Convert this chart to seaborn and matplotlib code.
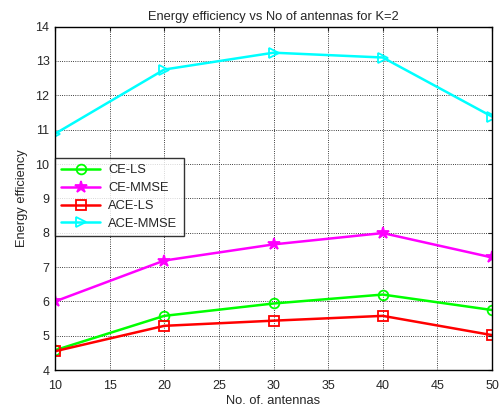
import matplotlib
matplotlib.use("Agg")
import matplotlib.pyplot as plt
import seaborn as sns
import pandas as pd

sns.set_style("white")
plt.rcParams["font.family"] = ["Liberation Sans", "DejaVu Sans"]

antennas = [10, 20, 30, 40, 50]
ce_ls = [4.58, 5.58, 5.94, 6.20, 5.75]
ce_mmse = [6.00, 7.19, 7.66, 7.99, 7.28]
ace_ls = [4.55, 5.29, 5.44, 5.58, 5.02]
ace_mmse = [10.88, 12.75, 13.24, 13.10, 11.38]

series = [
    ("CE-LS", ce_ls, "#00ff00", "o", "none"),
    ("CE-MMSE", ce_mmse, "#ff00ff", "*", "#ff00ff"),
    ("ACE-LS", ace_ls, "#ff0000", "s", "none"),
    ("ACE-MMSE", ace_mmse, "#00ffff", ">", "none"),
]

fig = plt.figure(figsize=(5, 4.09), dpi=100)
ax = fig.add_axes([0.11, 0.095, 0.874, 0.84])

for name, vals, col, mk, fc in series:
    df = pd.DataFrame({"N": antennas, "ee": vals})
    sns.lineplot(data=df, x="N", y="ee", ax=ax, color=col, marker=mk,
                 markersize=9 if mk == "*" else 7, markerfacecolor=fc,
                 markeredgecolor=col, markeredgewidth=1.3, linewidth=1.8,
                 label=name)

ax.set_xlim(10, 50)
ax.set_ylim(4, 14)
ax.set_xticks(range(10, 51, 5))
ax.set_yticks(range(4, 15))
ax.grid(True, color="black", linestyle=":", linewidth=0.6)
ax.tick_params(direction="in", top=True, right=True, labelsize=9, length=3)
ax.tick_params(axis="x", pad=7)
ax.tick_params(axis="y", pad=4)
for s in ax.spines.values():
    s.set_color("black")
    s.set_linewidth(1.0)

ax.set_title("Energy efficiency vs No of antennas for K=2", fontsize=9.3, pad=5)
ax.set_xlabel("No. of. antennas", fontsize=9.3, labelpad=2)
ax.set_ylabel("Energy efficiency", fontsize=9.3, labelpad=5)

leg = ax.legend(loc="upper left", bbox_to_anchor=(0, 0.618), borderaxespad=0,
                fontsize=9.3, frameon=True, fancybox=False, edgecolor="black",
                handlelength=3.0, handletextpad=0.6, labelspacing=0.45,
                borderpad=0.5)
leg.get_frame().set_linewidth(1.0)

fig.savefig("out.png", dpi=100)
